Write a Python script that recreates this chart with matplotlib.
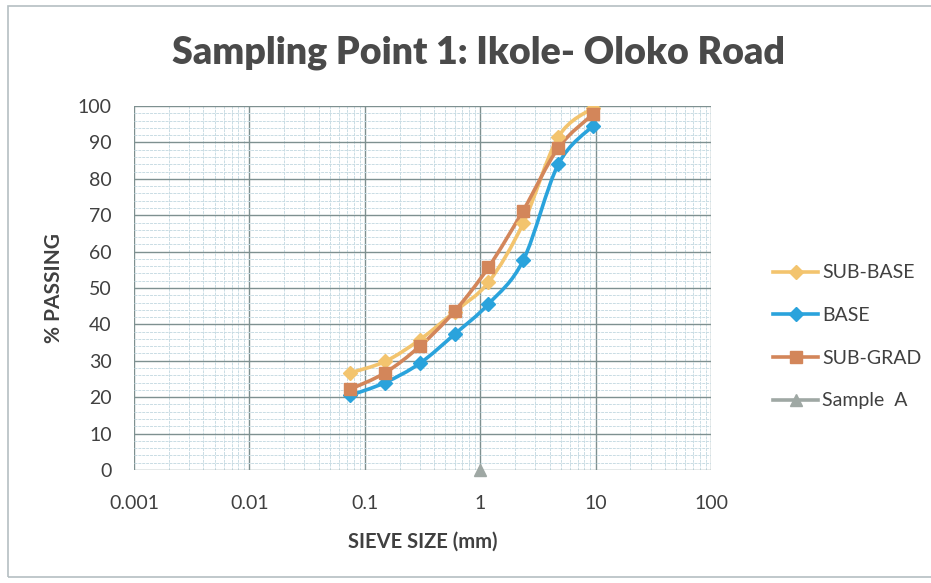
import numpy as np
import matplotlib
matplotlib.use("Agg")
import matplotlib.pyplot as plt
from matplotlib.path import Path
from matplotlib.patches import PathPatch, Rectangle
from matplotlib.lines import Line2D
from matplotlib.ticker import FixedLocator, NullFormatter

# Sieve sizes (mm) and percent passing for each gradation envelope
sieve_mm = [0.075, 0.15, 0.3, 0.6, 1.18, 2.36, 4.75, 9.5]
sub_base = [26.7, 29.8, 35.8, 43.5, 51.6, 67.8, 91.5, 99.5]
base = [20.5, 24.0, 29.3, 37.3, 45.6, 57.6, 84.0, 94.6]
sub_grad = [22.2, 26.7, 34.0, 43.6, 55.7, 71.3, 88.5, 97.8]
sample_a_x = [1.0]
sample_a_y = [0.0]

x_ticks = [0.001, 0.01, 0.1, 1, 10, 100]
x_tick_labels = ["0.001", "0.01", "0.1", "1", "10", "100"]
y_ticks = list(range(0, 101, 10))

series = [
    ("SUB-BASE", sub_base, "#F3C46E", "D", 7.5),
    ("BASE", base, "#2AA3DC", "D", 7.5),
    ("SUB-GRAD", sub_grad, "#D3865A", "s", 9),
]
sample_color = "#9FA8A4"

plt.rcParams["font.family"] = ["Lato", "DejaVu Sans"]


def smooth_path(xs, ys, tension=1 / 6):
    """Catmull-Rom style cubic Bezier through the points, built in log-x space."""
    lx = np.log10(np.asarray(xs, float))
    yy = np.asarray(ys, float)
    n = len(lx)
    verts = [(xs[0], ys[0])]
    codes = [Path.MOVETO]
    for i in range(n - 1):
        i0 = max(i - 1, 0)
        i3 = min(i + 2, n - 1)
        c1 = (lx[i] + (lx[i + 1] - lx[i0]) * tension, yy[i] + (yy[i + 1] - yy[i0]) * tension)
        c2 = (lx[i + 1] - (lx[i3] - lx[i]) * tension, yy[i + 1] - (yy[i3] - yy[i]) * tension)
        verts += [(10 ** c1[0], c1[1]), (10 ** c2[0], c2[1]), (xs[i + 1], ys[i + 1])]
        codes += [Path.CURVE4, Path.CURVE4, Path.CURVE4]
    return Path(verts, codes)


fig = plt.figure(figsize=(9.31, 5.83), dpi=100)
fig.patch.set_facecolor("white")

# Outer chart border
fig.patches.append(Rectangle((0.009, 0.010), 1.2, 0.980, transform=fig.transFigure,
                             fill=False, edgecolor="#B5BFC2", linewidth=1.2))

ax = fig.add_axes([0.1439, 0.194, 0.6198, 0.624])
ax.set_xscale("log")
ax.set_xlim(0.001, 100)
ax.set_ylim(0, 100)

ax.xaxis.set_major_locator(FixedLocator(x_ticks))
ax.set_xticks(x_ticks)
ax.set_xticklabels(x_tick_labels)
minor_x = [m * 10.0 ** e for e in range(-3, 2) for m in range(2, 10)]
ax.xaxis.set_minor_locator(FixedLocator(minor_x))
ax.xaxis.set_minor_formatter(NullFormatter())
ax.set_yticks(y_ticks)
ax.yaxis.set_minor_locator(FixedLocator(list(range(0, 101, 2))))

ax.grid(True, which="minor", color="#C9DCE4", linewidth=0.7, linestyle=(0, (3, 1)))
ax.grid(True, which="major", color="#7E9090", linewidth=1.0)
ax.set_axisbelow(True)
for sp in ax.spines.values():
    sp.set_visible(False)
ax.tick_params(which="both", length=0)
ax.tick_params(axis="x", pad=18, labelsize=14, labelcolor="#404040")
ax.tick_params(axis="y", pad=16, labelsize=14, labelcolor="#404040")

handles = []
for name, vals, color, marker, ms in series:
    ax.add_patch(PathPatch(smooth_path(sieve_mm, vals), facecolor="none",
                           edgecolor=color, linewidth=2.6, zorder=3))
    ax.plot(sieve_mm, vals, linestyle="none", marker=marker, markersize=ms,
            color=color, zorder=4)
    handles.append(Line2D([], [], color=color, linewidth=2.6, marker=marker,
                          markersize=ms, label=name))

ax.plot(sample_a_x, sample_a_y, linestyle="none", marker="^", markersize=9,
        color=sample_color, zorder=5, clip_on=False)
handles.append(Line2D([], [], color=sample_color, linewidth=2.6, marker="^",
                      markersize=9, label="Sample  A"))

fig.legend(handles=handles, loc="center left", bbox_to_anchor=(0.812, 0.422),
           frameon=False, fontsize=14, labelspacing=1.32, handlelength=2.3,
           handletextpad=0.2, labelcolor="#404040")

fig.text(0.514, 0.91, "Sampling Point 1: Ikole- Oloko Road", ha="center", va="center",
         fontsize=27, fontweight="heavy", color="#4A4A4A")
ax.set_xlabel("SIEVE SIZE (mm)", fontsize=14.5, fontweight="bold", color="#404040", labelpad=14)
ax.set_ylabel("% PASSING", fontsize=15, fontweight="bold", color="#404040", labelpad=10)

fig.savefig("out.png", dpi=100, facecolor="white")
